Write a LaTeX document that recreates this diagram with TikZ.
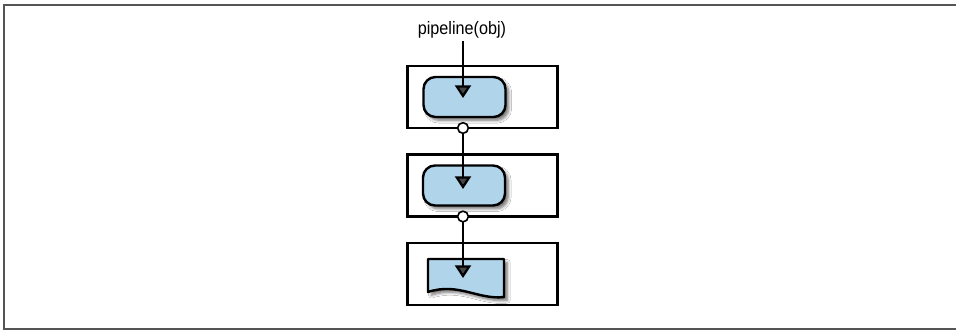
\documentclass[tikz,border=0pt]{standalone}
\usepackage{fontspec}
\setmainfont{Liberation Sans}
\usetikzlibrary{arrows.meta,shadows.blur}
\definecolor{procblue}{RGB}{176,212,234}
\definecolor{framegray}{RGB}{85,85,85}
\tikzset{
  stagebox/.style={draw=black,line width=2.1pt,fill=white},
  proc/.style={draw=black,line width=1.8pt,fill=procblue,rounded corners=9pt,
    blur shadow={shadow xshift=2.5pt,shadow yshift=-2.5pt,shadow blur steps=6,shadow opacity=55}},
  flow/.style={line width=1.7pt,-{Triangle[width=12pt,length=9.5pt]}},
  joint/.style={circle,draw=black,line width=1.2pt,fill=white,inner sep=0pt,minimum size=8pt},
}
\begin{document}
\begin{tikzpicture}[x=0.75pt,y=-0.75pt]
\useasboundingbox (0,0) rectangle (956,330);
% outer frame (top, left, bottom)
\draw[framegray,line width=1.5pt] (957,5) -- (4,5) -- (4,329) -- (957,329);
% title
\node[font=\fontsize{13.5pt}{15pt}\selectfont,inner sep=0pt,anchor=base] (title) at (462,34) {\scalebox{0.9}[1]{pipeline(obj)}};
\coordinate (tbot) at (463,41);
% stage boxes
\node[stagebox,minimum width=150*0.75pt,minimum height=62*0.75pt,inner sep=0pt] (s1) at (482.5,97) {};
\node[stagebox,minimum width=150*0.75pt,minimum height=62*0.75pt,inner sep=0pt] (s2) at (482.5,185.5) {};
\node[stagebox,minimum width=150*0.75pt,minimum height=62*0.75pt,inner sep=0pt] (s3) at (482.5,274) {};
% process shapes
\node[proc,minimum width=82*0.75pt,minimum height=40*0.75pt,inner sep=0pt] (p1) at (464.5,97) {};
\node[proc,minimum width=82*0.75pt,minimum height=40*0.75pt,inner sep=0pt] (p2) at (464,185.5) {};
% document shape
\path[draw=black,line width=1.8pt,fill=procblue,line join=round,
    blur shadow={shadow xshift=2.5pt,shadow yshift=-2.5pt,shadow blur steps=6,shadow opacity=55}]
  (428,259) -- (504,259) -- (504,297) .. controls (478,300) and (458,282) .. (428,292) -- cycle;
\coordinate (d3) at (463,278);
% joints
\coordinate (c1) at (463,128);
\coordinate (c2) at (463,216.5);
% connectors
\draw[flow] (tbot) -- (463,98);
\draw[flow] (c1) -- (463,189);
\draw[flow] (c2) -- (d3);
\node[joint] (j1) at (c1) {};
\node[joint] (j2) at (c2) {};
\end{tikzpicture}
\end{document}
